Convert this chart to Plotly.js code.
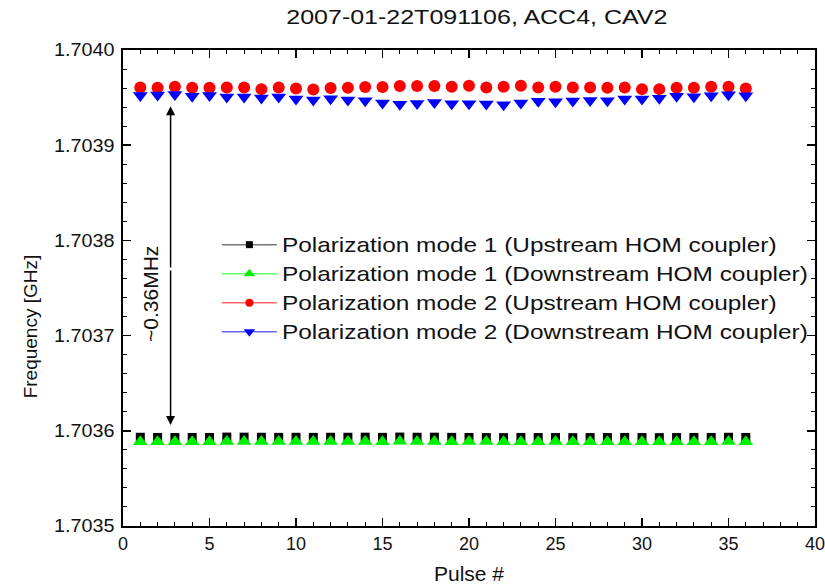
<!DOCTYPE html>
<html>
<head>
<meta charset="utf-8">
<script src="https://cdn.plot.ly/plotly-3.0.1.min.js"></script>
<style>html,body{margin:0;padding:0;background:#fff;}#chart{width:825px;height:587px;}</style>
</head>
<body>
<div id="chart"></div>
<script>
const pulses = [1,2,3,4,5,6,7,8,9,10,11,12,13,14,15,16,17,18,19,20,21,22,23,24,25,26,27,28,29,30,31,32,33,34,35,36];

const mode1Up = [1.7035932,1.7035930,1.7035929,1.7035930,1.7035930,1.7035934,1.7035933,1.7035932,1.7035931,1.7035932,1.7035931,1.7035932,1.7035932,1.7035933,1.7035931,1.7035934,1.7035932,1.7035933,1.7035931,1.7035930,1.7035929,1.7035928,1.7035930,1.7035929,1.7035929,1.7035928,1.7035929,1.7035929,1.7035930,1.7035929,1.7035928,1.7035929,1.7035930,1.7035930,1.7035932,1.7035930];
const mode1Down = [1.7035886,1.7035885,1.7035886,1.7035884,1.7035885,1.7035888,1.7035888,1.7035887,1.7035887,1.7035888,1.7035887,1.7035887,1.7035887,1.7035888,1.7035886,1.7035890,1.7035887,1.7035888,1.7035886,1.7035887,1.7035887,1.7035885,1.7035886,1.7035886,1.7035887,1.7035886,1.7035885,1.7035884,1.7035885,1.7035886,1.7035885,1.7035885,1.7035885,1.7035886,1.7035887,1.7035886];
const mode2Up = [1.7039607,1.7039604,1.7039614,1.7039604,1.7039604,1.7039607,1.7039607,1.7039589,1.7039607,1.7039596,1.7039586,1.7039600,1.7039604,1.7039611,1.7039611,1.7039621,1.7039621,1.7039621,1.7039614,1.7039625,1.7039607,1.7039614,1.7039625,1.7039607,1.7039614,1.7039607,1.7039607,1.7039604,1.7039607,1.7039589,1.7039589,1.7039604,1.7039604,1.7039614,1.7039614,1.7039596];
const mode2Down = [1.7039521,1.7039528,1.7039533,1.7039515,1.7039522,1.7039507,1.7039507,1.7039496,1.7039507,1.7039484,1.7039475,1.7039487,1.7039475,1.7039468,1.7039443,1.7039431,1.7039438,1.7039449,1.7039435,1.7039435,1.7039433,1.7039426,1.7039443,1.7039461,1.7039457,1.7039463,1.7039470,1.7039466,1.7039484,1.7039484,1.7039492,1.7039515,1.7039510,1.7039519,1.7039531,1.7039519];

const seriesNames = [
  'Polarization mode 1 (Upstream HOM coupler)',
  'Polarization mode 1 (Downstream HOM coupler)',
  'Polarization mode 2 (Upstream HOM coupler)',
  'Polarization mode 2 (Downstream HOM coupler)'
];
const yTickVals = [1.7035,1.7036,1.7037,1.7038,1.7039,1.7040];
const yTickText = ['1.7035','1.7036','1.7037','1.7038','1.7039','1.7040'];
const xTickVals = [0,5,10,15,20,25,30,35,40];

const seriesData = [mode1Up, mode1Down, mode2Up, mode2Down];
const markerSymbols = ['square','triangle-up','circle','triangle-down'];
const markerColors = ['#000000','#00ee00','#ff0000','#0000ff'];
const lineColors = ['#777777','#66ff66','#ff6666','#6666ff'];
const markerSizes = [9,13,12,13];
const legendSizes = [7,10,8,10];

const traces = [];
for (let i = 0; i < 4; i++) {
  traces.push({
    x: pulses, y: seriesData[i], type: 'scatter', mode: 'markers',
    name: seriesNames[i], showlegend: false,
    marker: {symbol: markerSymbols[i], color: markerColors[i], size: markerSizes[i]}
  });
}
for (let i = 0; i < 4; i++) {
  traces.push({
    x: [null], y: [null], type: 'scatter', mode: 'lines+markers',
    name: seriesNames[i], showlegend: true,
    line: {color: lineColors[i], width: 1.5},
    marker: {symbol: markerSymbols[i], color: markerColors[i], size: legendSizes[i]}
  });
}

const fontFam = 'Liberation Sans, Arial, sans-serif';
const layout = {
  width: 825, height: 587,
  margin: {l: 123, r: 10, t: 50, b: 61},
  paper_bgcolor: '#ffffff', plot_bgcolor: '#ffffff',
  font: {family: fontFam, color: '#111', size: 18},
  title: {text: '2007-01-22T091106, ACC4, CAV2', x: 0.578, xanchor: 'center', y: 0.971, yanchor: 'middle', font: {size: 20, family: fontFam, color: '#111'}},
  xaxis: {
    range: [0, 40], tickvals: xTickVals, ticks: 'inside', ticklen: 8, tickwidth: 1.5, tickcolor: '#000',
    showline: true, linecolor: '#000', linewidth: 2, mirror: 'allticks', showgrid: false, zeroline: false,
    ticklabeloverflow: 'allow',
    minor: {dtick: 1, ticks: 'inside', ticklen: 4, tickwidth: 1, tickcolor: '#000', showgrid: false},
    tickfont: {size: 18, family: fontFam, color: '#111'}
  },
  yaxis: {
    range: [1.7035, 1.7040], tickvals: yTickVals, ticktext: yTickText, ticks: 'inside', ticklen: 8, tickwidth: 1.5, tickcolor: '#000',
    showline: true, linecolor: '#000', linewidth: 2, mirror: 'allticks', showgrid: false, zeroline: false,
    ticklabeloverflow: 'allow', ticklabelstandoff: 3,
    minor: {dtick: 0.00002, tick0: 1.7035, ticks: 'inside', ticklen: 4, tickwidth: 1, tickcolor: '#000', showgrid: false},
    tickfont: {size: 18, family: fontFam, color: '#111'}
  },
  legend: {
    x: 0.14, y: 0.632, xanchor: 'left', yanchor: 'top',
    bgcolor: 'rgba(255,255,255,0)', borderwidth: 0, tracegroupgap: 0,
    font: {size: 20, family: fontFam, color: '#111'}, itemwidth: 52
  },
  annotations: [
    {x: 2.75, y: 1.703941, xref: 'x', yref: 'y', ax: 2.75, ay: 1.70377, axref: 'x', ayref: 'y', showarrow: true, arrowhead: 2, arrowsize: 1.2, arrowwidth: 1.5, arrowcolor: '#000', text: ''},
    {x: 2.75, y: 1.703606, xref: 'x', yref: 'y', ax: 2.75, ay: 1.70377, axref: 'x', ayref: 'y', showarrow: true, arrowhead: 2, arrowsize: 1.2, arrowwidth: 1.5, arrowcolor: '#000', text: ''},
    {x: 1.56, y: 1.7037437, xref: 'x', yref: 'y', text: '~0.36MHz', showarrow: false, textangle: -90, font: {size: 21, family: fontFam, color: '#111'}},
    {x: -0.134, y: 0.42, xref: 'paper', yref: 'paper', text: 'Frequency [GHz]', showarrow: false, textangle: -90, xanchor: 'center', yanchor: 'middle', font: {size: 19, family: fontFam, color: '#111'}},
    {x: 0.5, y: -0.1, xref: 'paper', yref: 'paper', text: 'Pulse #', showarrow: false, xanchor: 'center', yanchor: 'middle', font: {size: 21, family: fontFam, color: '#111'}}
  ]
};

function stretchText(el, s) {
  const x = parseFloat(el.getAttribute('x')) || 0;
  const prev = el.getAttribute('transform') || '';
  el.setAttribute('transform', prev + ' translate(' + (x * (1 - s)) + ',0) scale(' + s + ',1)');
}

Plotly.newPlot('chart', traces, layout, {displayModeBar: false, staticPlot: true}).then(function () {
  document.querySelectorAll('.legend [clip-path]').forEach(function (el) { el.removeAttribute('clip-path'); });
  const lg = document.querySelector('.legend');
  if (lg) lg.removeAttribute('clip-path');
  document.querySelectorAll('.legendtext').forEach(function (t) { stretchText(t, 1.22); });
  const ttl = document.querySelector('.gtitle');
  if (ttl) stretchText(ttl, 1.25);
  document.querySelectorAll('.ytick text').forEach(function (t) { stretchText(t, 1.1); });
  document.querySelectorAll('.legendlines path').forEach(function (p) { p.setAttribute('d', 'M2,0h55'); });
  document.querySelectorAll('.legendpoints path.scatterpts').forEach(function (p) { p.setAttribute('transform', 'translate(29.5,0)'); });
});
</script>
</body>
</html>
